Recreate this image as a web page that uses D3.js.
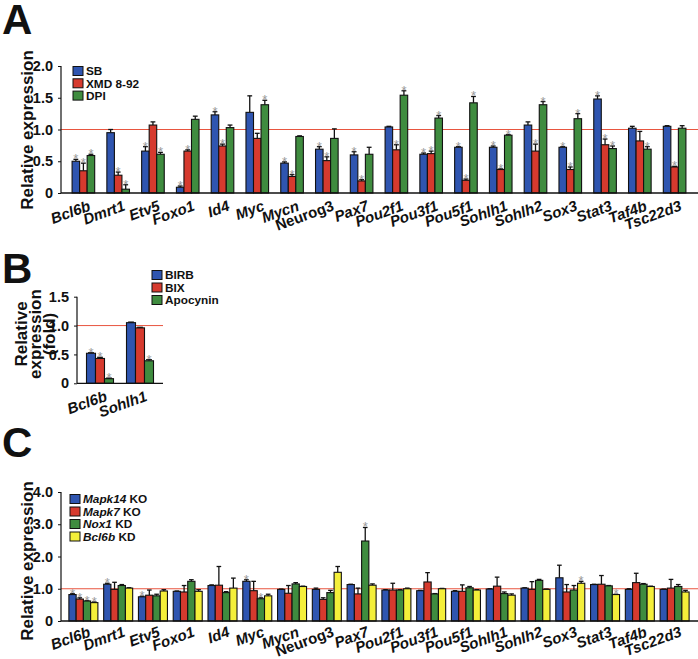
<!DOCTYPE html>
<html>
<head>
<meta charset="utf-8">
<script src="https://d3js.org/d3.v7.min.js"></script>
<style>
  body { margin: 0; background: #fff; }
  text { font-family: "Liberation Sans", Arial, Helvetica, sans-serif; }
</style>
</head>
<body>
<div id="chart"></div>
<script>
// ---------- data ----------
var genes = ["Bcl6b","Dmrt1","Etv5","Foxo1","Id4","Myc","Mycn","Neurog3","Pax7",
             "Pou2f1","Pou3f1","Pou5f1","Sohlh1","Sohlh2","Sox3","Stat3","Taf4b","Tsc22d3"];

// panel A
var aNames = ["SB", "XMD 8-92", "DPI"];
var aSB   = [0.50,0.95,0.66,0.09,1.23,1.27,0.47,0.69,0.60,1.04,0.61,0.72,0.72,1.07,0.72,1.48,1.02,1.05];
var aXMD  = [0.35,0.28,1.07,0.66,0.74,0.86,0.26,0.51,0.19,0.68,0.62,0.20,0.37,0.66,0.37,0.76,0.82,0.41];
var aDPI  = [0.59,0.06,0.61,1.16,1.03,1.39,0.89,0.86,0.61,1.54,1.18,1.42,0.91,1.39,1.17,0.70,0.69,1.02];
var aSBerr  = [0.03,0.05,0.07,0.02,0.05,0.26,0.02,0.04,0.05,0.01,0.02,0.01,0.02,0.05,0.01,0.05,0.03,0.01];
var aXMDerr = [0.12,0.05,0.05,0.02,0.03,0.08,0.03,0.06,0.02,0.08,0.04,0.02,0.01,0.11,0.04,0.09,0.15,0.01];
var aDPIerr = [0.02,0.07,0.03,0.05,0.04,0.07,0.01,0.15,0.11,0.07,0.04,0.10,0.01,0.05,0.08,0.04,0.04,0.04];
var aSBstar  = [1,0,1,1,1,0,1,1,1,0,1,1,1,0,1,1,0,0];
var aXMDstar = [1,1,0,1,1,0,1,1,1,1,1,1,1,1,1,1,0,1];
var aDPIstar = [1,1,1,0,0,1,0,0,0,1,1,1,1,1,1,1,1,0];

// panel B
var bGenes = ["Bcl6b", "Sohlh1"];
var bNames = ["BIRB", "BIX", "Apocynin"];
var bBIRB = [0.52, 1.05];
var bBIX  = [0.43, 0.96];
var bApo  = [0.08, 0.39];
var bBIRBerr = [0.01, 0.01];
var bBIXerr  = [0.02, 0.01];
var bApoerr  = [0.01, 0.02];
var bBIRBstar = [1, 0];
var bBIXstar  = [1, 0];
var bApostar  = [1, 1];

// panel C
var cNames = [["Mapk14"," KO"], ["Mapk7"," KO"], ["Nox1"," KD"], ["Bcl6b"," KD"]];
var cMapk14 = [0.82,1.14,0.75,0.92,1.10,1.23,0.98,0.98,1.13,0.96,0.94,0.92,0.99,1.02,1.34,1.13,0.98,0.98];
var cMapk7  = [0.68,0.98,0.80,0.90,1.11,0.94,0.86,0.67,0.84,0.96,1.21,0.92,1.08,0.98,0.90,1.14,1.19,1.02];
var cNox1   = [0.62,1.10,0.78,1.23,0.88,0.69,1.15,0.88,2.48,0.96,0.84,1.03,0.85,1.26,0.96,1.09,1.14,1.07];
var cBcl6b  = [0.57,1.02,0.93,0.92,1.02,0.78,1.07,1.51,1.11,1.00,1.00,0.96,0.80,0.98,1.17,0.82,1.07,0.90];
var cMapk14err = [0.03,0.03,0.02,0.01,0.02,0.05,0.01,0.04,0.01,0.01,0.01,0.02,0.01,0.01,0.39,0.01,0.02,0.01];
var cMapk7err  = [0.04,0.22,0.16,0.20,0.58,0.29,0.24,0.05,0.18,0.21,0.29,0.20,0.28,0.24,0.23,0.27,0.29,0.27];
var cNox1err   = [0.01,0.03,0.05,0.05,0.03,0.03,0.04,0.07,0.42,0.01,0.01,0.04,0.05,0.03,0.14,0.01,0.02,0.06];
var cBcl6berr  = [0.02,0.01,0.04,0.05,0.31,0.05,0.01,0.18,0.04,0.02,0.01,0.01,0.04,0.01,0.06,0.01,0.01,0.05];
var cMapk14star = [1,1,1,0,0,1,0,0,0,0,0,0,0,0,0,0,0,0];
var cMapk7star  = [1,0,0,0,0,0,0,0,0,0,0,0,0,0,0,0,0,0];
var cNox1star   = [1,0,0,0,0,1,0,0,1,0,0,0,0,0,0,0,0,0];
var cBcl6bstar  = [1,0,0,0,0,0,0,0,0,0,0,0,0,0,1,1,0,0];

var blue = "#2f55b0", red = "#d63a2e", green = "#3f8c3f", yellow = "#f4ef3a";

// ---------- drawing ----------
var width = 698, height = 659;
var svg = d3.select("#chart").append("svg")
    .attr("width", width)
    .attr("height", height);

function build(cats, vals, errs, stars) {
  return cats.map(function(c, i) {
    return vals.map(function(v, s) {
      return {cat: c, s: s, v: v[i], e: errs[s][i], star: stars[s][i]};
    });
  });
}

function drawPanel(o) {
  var g = svg.append("g");
  var y = d3.scaleLinear().domain([0, o.ymax]).range([o.y0, o.y1]);
  var x = d3.scaleBand().domain(o.cats).range(o.xr).padding(0);
  var sub = d3.scaleBand().domain(d3.range(o.colors.length))
      .range([x.bandwidth() / 2 - o.gw / 2, x.bandwidth() / 2 + o.gw / 2]).padding(0);
  var cx = function(d) { return sub(d.s) + sub.bandwidth() / 2; };

  // reference line at 1.0
  g.append("line")
    .attr("x1", o.axisX).attr("x2", o.axisEnd)
    .attr("y1", y(1)).attr("y2", y(1))
    .attr("stroke", "#e8553f").attr("stroke-width", 1);

  var data = build(o.cats, o.vals, o.errs, o.stars);
  var grp = g.selectAll("g.grp").data(data).enter().append("g")
    .attr("transform", function(d) { return "translate(" + x(d[0].cat) + ",0)"; });

  // error bars (upper only)
  grp.selectAll("line.err").data(function(d) { return d; }).enter().append("line")
    .attr("x1", cx).attr("x2", cx)
    .attr("y1", function(d) { return y(d.v); })
    .attr("y2", function(d) { return y(d.v + d.e); })
    .attr("stroke", "#111").attr("stroke-width", 1.3);
  grp.selectAll("line.cap").data(function(d) { return d; }).enter().append("line")
    .attr("x1", function(d) { return cx(d) - sub.bandwidth() * 0.32; })
    .attr("x2", function(d) { return cx(d) + sub.bandwidth() * 0.32; })
    .attr("y1", function(d) { return y(d.v + d.e); })
    .attr("y2", function(d) { return y(d.v + d.e); })
    .attr("stroke", "#111").attr("stroke-width", 1.3);

  grp.selectAll("rect").data(function(d) { return d; }).enter().append("rect")
    .attr("x", function(d) { return sub(d.s); })
    .attr("y", function(d) { return y(d.v); })
    .attr("width", sub.bandwidth())
    .attr("height", function(d) { return y(0) - y(d.v); })
    .attr("fill", function(d) { return o.colors[d.s]; })
    .attr("stroke", "#111").attr("stroke-width", 1.1);

  grp.selectAll("text.star").data(function(d) { return d.filter(function(e) { return e.star; }); })
    .enter().append("text")
    .attr("x", cx)
    .attr("y", function(d) { return y(d.v + d.e) + 4; })
    .attr("text-anchor", "middle")
    .attr("font-size", 13).attr("fill", "#999")
    .text("*");

  // axes
  var ya = d3.axisLeft(y).tickValues(o.ticks).tickSize(3).tickPadding(5)
    .tickFormat(function(d) { return d === 0 ? "0" : d3.format(".1f")(d); });
  var yg = g.append("g").attr("transform", "translate(" + o.axisX + ",0)").call(ya);
  yg.select(".domain").attr("d", "M0," + o.y1 + "V" + o.y0).attr("stroke", "#111").attr("stroke-width", 1.2);
  yg.selectAll(".tick line").attr("stroke", "#111");
  yg.selectAll(".tick text").attr("font-size", 14.5).attr("font-weight", "bold")
    .attr("fill", "#111").style("font-family", "Liberation Sans, Arial, sans-serif");

  g.append("line")
    .attr("x1", o.axisX).attr("x2", o.axisEnd)
    .attr("y1", y(0)).attr("y2", y(0))
    .attr("stroke", "#111").attr("stroke-width", 1.3);

  // category labels
  g.selectAll("text.cat").data(o.cats).enter().append("text")
    .attr("transform", function(d) {
      return "translate(" + (x(d) + x.bandwidth() / 2 + 8) + "," + (y(0) + o.labDy) + ") rotate(-20)";
    })
    .attr("text-anchor", "end")
    .attr("font-size", 15).attr("font-weight", "bold")
    .attr("font-style", function(d) { return d === "Neurog3" ? "normal" : "italic"; })
    .attr("fill", "#111")
    .text(function(d) { return d; });

  // y title
  var t = g.append("text")
    .attr("transform", "translate(" + o.titleX + "," + o.titleY + ") rotate(-90)")
    .attr("text-anchor", "middle")
    .attr("font-size", 17).attr("font-weight", "bold").attr("fill", "#111");
  o.title.forEach(function(line, i) {
    t.append("tspan").attr("x", 0).attr("dy", i === 0 ? 0 : 14).text(line);
  });

  // panel letter
  g.append("text").attr("x", o.letterX).attr("y", o.letterY)
    .attr("font-size", 42).attr("font-weight", "bold").attr("fill", "#111")
    .text(o.letter);

  // legend
  var lg = g.selectAll("g.leg").data(o.names).enter().append("g")
    .attr("transform", function(d, i) { return "translate(" + o.legX + "," + (o.legY + i * o.legStep) + ")"; });
  lg.append("rect").attr("x", 0).attr("y", -4.5).attr("width", 10).attr("height", 9)
    .attr("fill", function(d, i) { return o.colors[i]; })
    .attr("stroke", "#111").attr("stroke-width", 1);
  var lt = lg.append("text").attr("x", 13).attr("y", 4.2)
    .attr("font-size", 11.8).attr("font-weight", "bold").attr("fill", "#111");
  lt.each(function(d) {
    var s = d3.select(this);
    if (Array.isArray(d)) {
      s.append("tspan").attr("font-style", "italic").text(d[0]);
      s.append("tspan").text(d[1]);
    } else {
      s.text(d);
    }
  });
}

drawPanel({
  letter: "A", letterX: 2, letterY: 34,
  cats: genes, xr: [66, 692], gw: 22.6, labDy: 17,
  vals: [aSB, aXMD, aDPI], errs: [aSBerr, aXMDerr, aDPIerr], stars: [aSBstar, aXMDstar, aDPIstar],
  colors: [blue, red, green], names: aNames,
  ymax: 2, y0: 193, y1: 66, ticks: [0, 0.5, 1, 1.5, 2],
  axisX: 61, axisEnd: 698,
  title: ["Relative expression"], titleX: 33, titleY: 130,
  legX: 73, legY: 71, legStep: 12.3
});

drawPanel({
  letter: "B", letterX: 2, letterY: 283,
  cats: bGenes, xr: [80, 160], gw: 27, labDy: 17,
  vals: [bBIRB, bBIX, bApo], errs: [bBIRBerr, bBIXerr, bApoerr], stars: [bBIRBstar, bBIXstar, bApostar],
  colors: [blue, red, green], names: bNames,
  ymax: 1.5, y0: 383.3, y1: 296.7, ticks: [0, 0.5, 1, 1.5],
  axisX: 77, axisEnd: 163,
  title: ["Relative", "expression", "(fold)"], titleX: 27, titleY: 334,
  legX: 152, legY: 275, legStep: 12.5
});

drawPanel({
  letter: "C", letterX: 2, letterY: 457,
  cats: genes, xr: [66, 692], gw: 29, labDy: 15,
  vals: [cMapk14, cMapk7, cNox1, cBcl6b], errs: [cMapk14err, cMapk7err, cNox1err, cBcl6berr],
  stars: [cMapk14star, cMapk7star, cNox1star, cBcl6bstar],
  colors: [blue, red, green, yellow], names: cNames,
  ymax: 4, y0: 621, y1: 492, ticks: [0, 1, 2, 3, 4],
  axisX: 61, axisEnd: 698,
  title: ["Relative expression"], titleX: 33, titleY: 561,
  legX: 70, legY: 499, legStep: 12.5
});
</script>
</body>
</html>
